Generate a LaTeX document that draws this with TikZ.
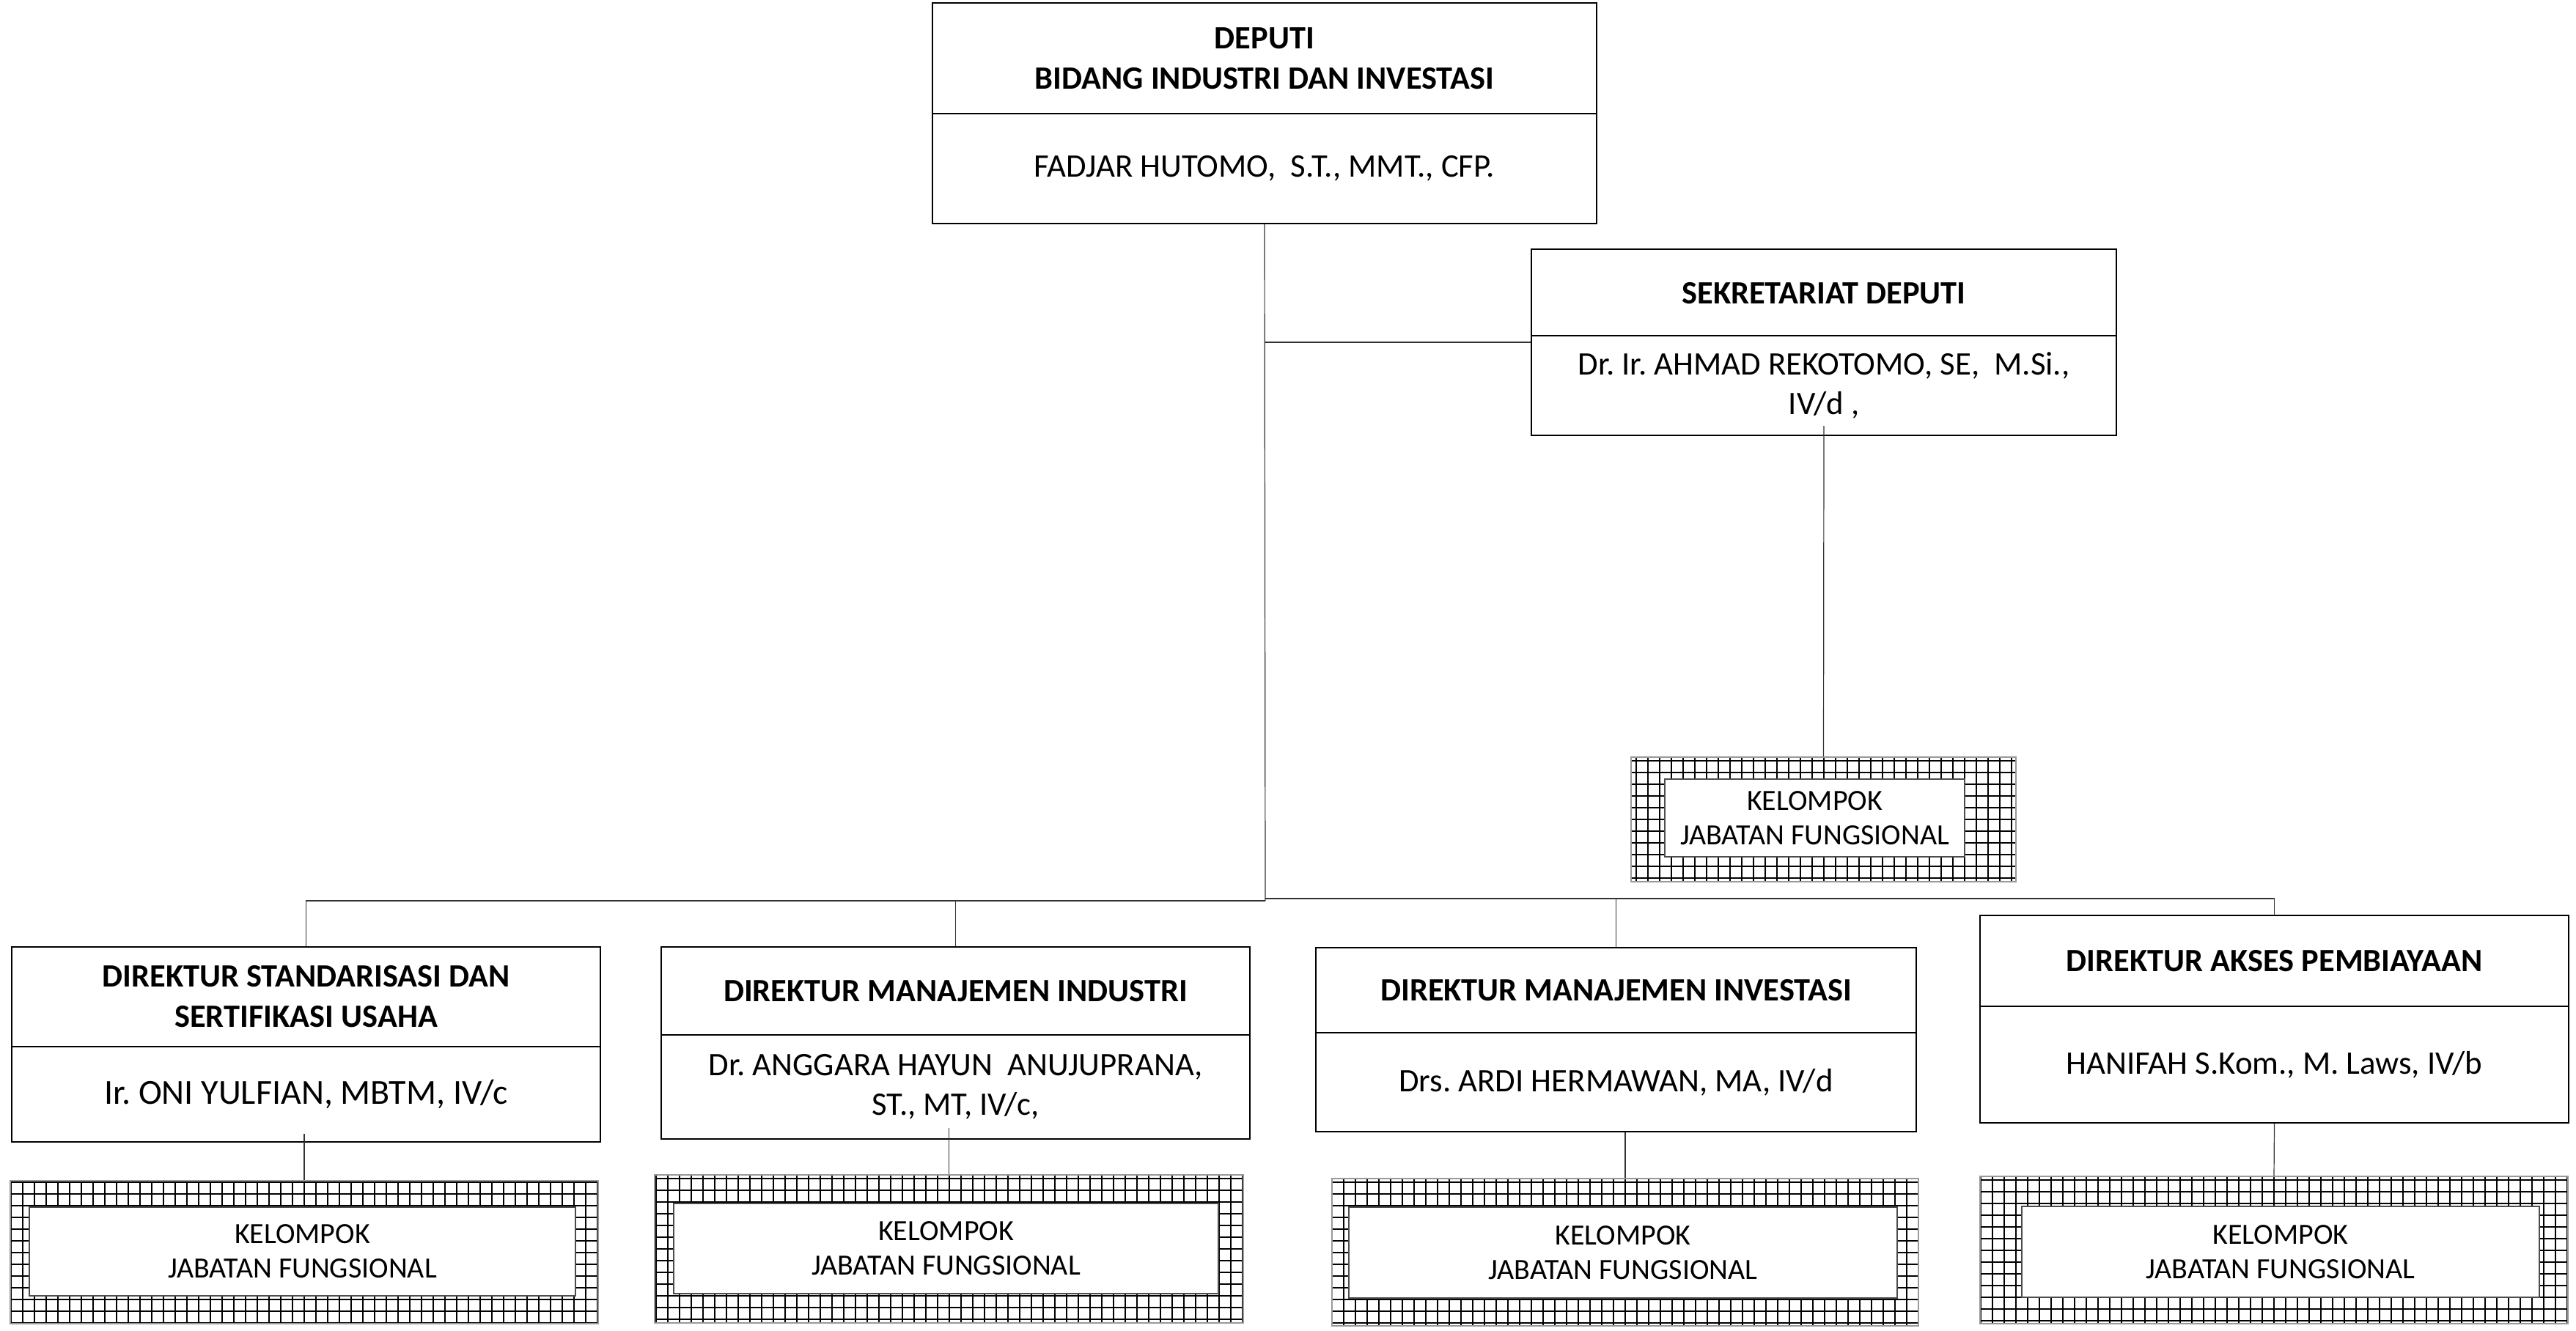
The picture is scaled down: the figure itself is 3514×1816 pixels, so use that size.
\documentclass[tikz,border=0pt]{standalone}
\usepackage{fontspec}
\setmainfont{Carlito}
\usetikzlibrary{calc}
\frenchspacing

\begin{document}
\begin{tikzpicture}[x=0.25pt,y=-0.25pt]
  \tikzstyle{every node}+=[inner sep=0pt]
  \tikzstyle{rule}=[black,line width=0.6pt]
  \tikzstyle{unit}=[rule,draw,rectangle]
  \tikzstyle{head}=[font=\bfseries\fontsize{11.1}{13.8}\selectfont,align=center]
  \tikzstyle{who}=[font=\fontsize{11.2}{13.5}\selectfont,align=center]
  \tikzstyle{wire}=[black!80,line width=0.3pt]
  \tikzstyle{jfgrid}=[draw=black!40,line width=0.3pt,rectangle,path picture={\draw[black,line width=0.5pt,step=4pt] (path picture bounding box.south west) grid (path picture bounding box.north east);}]
  \tikzstyle{jfbox}=[draw=black!70,line width=0.4pt,fill=white,rectangle,font=\fontsize{10}{11.8}\selectfont,align=center]
  \useasboundingbox (0,0) rectangle (3514,1816);
  \node [unit,minimum width=226.5pt,minimum height=75.25pt] (deputi) at (1725,154.5) {};
  \node [head] (deputihead) at (1725,80) {DEPUTI\\BIDANG INDUSTRI DAN INVESTASI};
  \node [who] (deputiname) at (1725,230) {FADJAR HUTOMO,\ \ S.T., MMT., CFP.};
  \draw [rule] (deputi.west |- 0,155) -- (deputi.east |- 0,155);
  \node [unit,minimum width=199.5pt,minimum height=63.5pt] (sek) at (2488,467) {};
  \node [head] (sekhead) at (2488,400) {SEKRETARIAT DEPUTI};
  \node [who] (sekname) at (2488,526) {Dr. Ir. AHMAD REKOTOMO, SE,\ \ M.Si.,\\IV/d ,};
  \draw [rule] (sek.west |- 0,458) -- (sek.east |- 0,458);
  \node [jfgrid,minimum width=131.25pt,minimum height=42.5pt] (jfs) at (2487.5,1118) {};
  \node [jfbox,minimum width=102.25pt,minimum height=26.5pt] (jfstext) at (2475.5,1116) {KELOMPOK\\JABATAN FUNGSIONAL};
  \node [unit,minimum width=200.75pt,minimum height=66.5pt] (dir1) at (417.5,1425) {};
  \node [head] (dir1head) at (417.5,1360) {DIREKTUR STANDARISASI DAN\\SERTIFIKASI USAHA};
  \node [who,font=\fontsize{12}{14}\selectfont] (dir1name) at (417.5,1493) {Ir. ONI YULFIAN, MBTM, IV/c};
  \draw [rule] (dir1.west |- 0,1428) -- (dir1.east |- 0,1428);
  \node [unit,minimum width=200.75pt,minimum height=65.5pt] (dir2) at (1303.5,1423) {};
  \node [head] (dir2head) at (1303.5,1352) {DIREKTUR MANAJEMEN INDUSTRI};
  \node [who] (dir2name) at (1303.5,1483) {Dr. ANGGARA HAYUN\ \ ANUJUPRANA,\\ST., MT, IV/c,};
  \draw [rule] (dir2.west |- 0,1412) -- (dir2.east |- 0,1412);
  \node [unit,minimum width=204.75pt,minimum height=62.75pt] (dir3) at (2204.5,1418.5) {};
  \node [head] (dir3head) at (2204.5,1351) {DIREKTUR MANAJEMEN INVESTASI};
  \node [who] (dir3name) at (2204.5,1476.5) {Drs. ARDI HERMAWAN, MA, IV/d};
  \draw [rule] (dir3.west |- 0,1409) -- (dir3.east |- 0,1409);
  \node [unit,minimum width=200.75pt,minimum height=70.75pt] (dir4) at (3102.5,1390.5) {};
  \node [head] (dir4head) at (3102.5,1311) {DIREKTUR AKSES PEMBIAYAAN};
  \node [who] (dir4name) at (3102.5,1452.5) {HANIFAH S.Kom., M. Laws, IV/b};
  \draw [rule] (dir4.west |- 0,1373) -- (dir4.east |- 0,1373);
  \node [jfgrid,minimum width=200.5pt,minimum height=48.75pt] (jf1) at (415,1708.5) {};
  \node [jfbox,minimum width=186.25pt,minimum height=30.25pt] (jf1text) at (412.5,1707.5) {KELOMPOK\\JABATAN FUNGSIONAL};
  \node [jfgrid,minimum width=200.75pt,minimum height=50.5pt] (jf2) at (1294.5,1704) {};
  \node [jfbox,minimum width=185.75pt,minimum height=30.75pt] (jf2text) at (1290.5,1703.5) {KELOMPOK\\JABATAN FUNGSIONAL};
  \node [jfgrid,minimum width=200pt,minimum height=50.25pt] (jf3) at (2217,1708.5) {};
  \node [jfbox,minimum width=187pt,minimum height=31.1pt] (jf3text) at (2214,1709) {KELOMPOK\\JABATAN FUNGSIONAL};
  \node [jfgrid,minimum width=200.5pt,minimum height=50.25pt] (jf4) at (3102,1705.5) {};
  \node [jfbox,minimum width=176.5pt,minimum height=30.9pt] (jf4text) at (3111,1708) {KELOMPOK\\JABATAN FUNGSIONAL};
  \coordinate (busL) at (1726,1229);
  \coordinate (busR) at (1726,1226);
  \draw [wire] (deputi.south) -- (busL);
  \draw [wire] (deputi.south |- sek.west) -- (sek.west);
  \draw [wire] ($(sek.south)+(0,-14)$) -- (jfs.north);
  \draw [wire] (busL) -| (dir1.north);
  \draw [wire] (busL) -| (dir2.north);
  \draw [wire] (busR) -| (dir3.north);
  \draw [wire] (busR) -| (dir4.north);
  \draw [wire] ($(jf1.north |- dir1.south)+(0,-12)$) -- (jf1.north);
  \draw [wire] ($(jf2.north |- dir2.south)+(0,-16)$) -- (jf2.north);
  \draw [wire] (jf3.north |- dir3.south) -- (jf3.north);
  \draw [wire] (dir4.south) -- (jf4.north);
\end{tikzpicture}
\end{document}
